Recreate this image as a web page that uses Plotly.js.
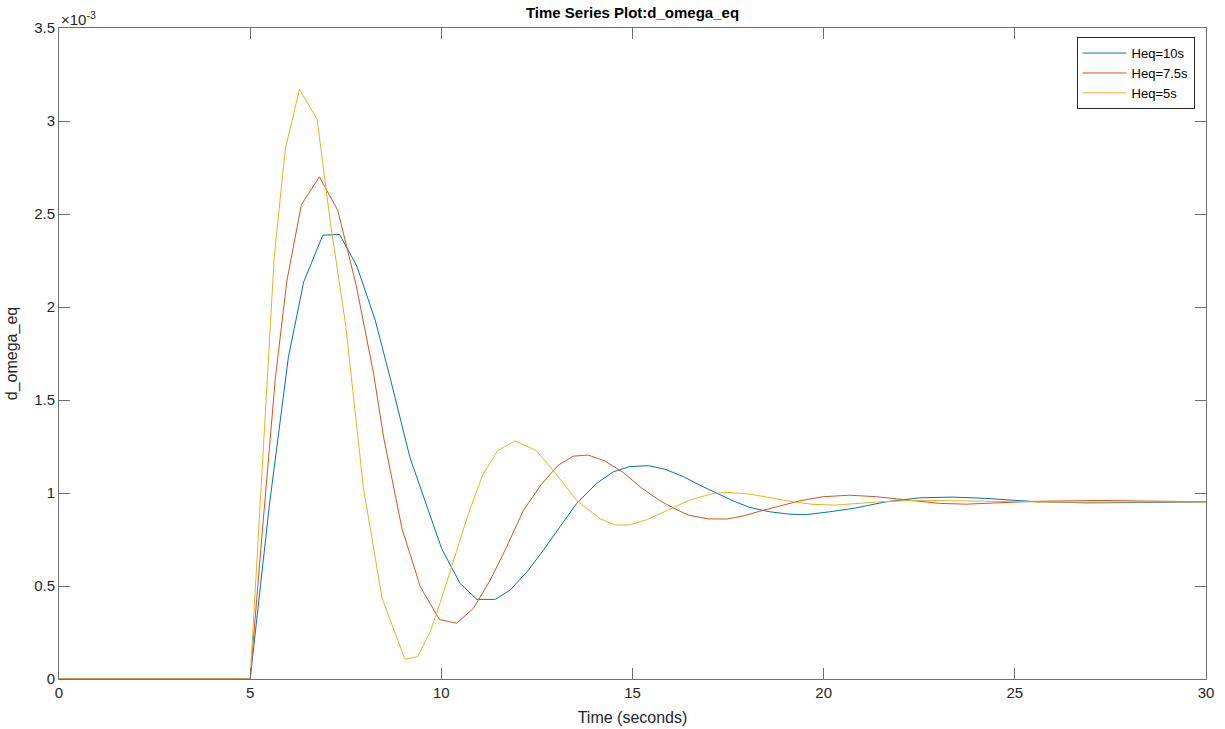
<!DOCTYPE html>
<html>
<head>
<meta charset="utf-8">
<script src="https://cdn.plot.ly/plotly-3.0.1.min.js"></script>
<style>html,body{margin:0;padding:0;background:#fff;}#chart{width:1225px;height:729px;}</style>
</head>
<body>
<div id="chart"></div>
<script>
// values in units of 1e-3
const t10 = [0, 5.0, 5.5, 6.0, 6.40, 6.90, 7.34, 7.79, 8.27, 8.66, 9.18, 9.62, 10.01, 10.49, 10.93, 11.41, 11.80, 12.28, 12.67, 13.10, 13.54, 14.06, 14.50, 14.93, 15.41, 15.85, 16.33, 16.76, 17.20, 17.63, 18.07, 18.59, 19.11, 19.55, 20.16, 20.77, 21.64, 22.51, 23.38, 24.25, 25.56, 26.87, 28.60, 30];
const y10 = [0, 0, 0.93, 1.73, 2.135, 2.386, 2.39, 2.22, 1.93, 1.62, 1.19, 0.926, 0.70, 0.514, 0.428, 0.428, 0.478, 0.586, 0.693, 0.818, 0.944, 1.052, 1.114, 1.142, 1.147, 1.128, 1.088, 1.042, 0.998, 0.958, 0.922, 0.899, 0.886, 0.884, 0.899, 0.917, 0.953, 0.974, 0.978, 0.971, 0.953, 0.947, 0.949, 0.952];

const t75 = [0, 5.0, 5.3, 5.66, 5.96, 6.34, 6.81, 7.29, 7.77, 8.23, 8.49, 8.97, 9.45, 9.95, 10.40, 10.84, 11.28, 11.71, 12.15, 12.63, 13.06, 13.45, 13.84, 14.28, 14.76, 15.22, 15.67, 16.06, 16.46, 16.98, 17.46, 17.89, 18.33, 18.85, 19.38, 19.98, 20.68, 21.38, 22.16, 23.03, 23.73, 24.6, 25.46, 27.2, 28.5, 30];
const y75 = [0, 0, 0.75, 1.62, 2.14, 2.55, 2.70, 2.52, 2.12, 1.64, 1.30, 0.81, 0.496, 0.32, 0.30, 0.38, 0.532, 0.711, 0.908, 1.05, 1.15, 1.198, 1.204, 1.172, 1.11, 1.03, 0.965, 0.92, 0.881, 0.861, 0.86, 0.876, 0.902, 0.931, 0.958, 0.98, 0.988, 0.98, 0.962, 0.944, 0.94, 0.946, 0.955, 0.96, 0.957, 0.953];

const t5 = [0, 5.0, 5.63, 5.92, 6.29, 6.75, 7.1, 7.5, 7.96, 8.45, 9.05, 9.38, 9.71, 9.97, 10.71, 11.08, 11.47, 11.93, 12.47, 12.93, 13.54, 14.15, 14.54, 14.93, 15.39, 15.95, 16.5, 17.11, 17.5, 18.07, 18.59, 19.2, 19.72, 20.3, 21.5, 22.45, 23.4, 24.5, 26, 28, 30];
const y5 = [0, 0, 2.27, 2.85, 3.17, 3.01, 2.45, 1.90, 1.03, 0.434, 0.106, 0.12, 0.254, 0.41, 0.89, 1.096, 1.227, 1.28, 1.23, 1.12, 0.96, 0.862, 0.828, 0.828, 0.858, 0.911, 0.962, 0.998, 1.003, 0.994, 0.974, 0.953, 0.939, 0.935, 0.953, 0.961, 0.958, 0.955, 0.951, 0.952, 0.952];

const seriesNames = ["Heq=10s", "Heq=7.5s", "Heq=5s"];
const xTicks = [0, 5, 10, 15, 20, 25, 30];
const yTicks = [0, 0.5, 1, 1.5, 2, 2.5, 3, 3.5];
const yTickText = ["0", "0.5", "1", "1.5", "2", "2.5", "3", "3.5"];

const colors = ["#0072BD", "#D95319", "#EDB120"];
const font = "Liberation Sans, Arial, Helvetica, sans-serif";

const traces = [[t10, y10], [t75, y75], [t5, y5]].map((d, i) => ({
  x: d[0], y: d[1], type: "scatter", mode: "lines", name: seriesNames[i],
  line: {color: colors[i], width: 1}
}));

const axisCommon = {
  showline: true, linecolor: "#707070", linewidth: 1, mirror: "ticks",
  ticks: "inside", ticklen: 11, tickcolor: "#707070", tickwidth: 1,
  showgrid: false, zeroline: false,
  tickfont: {family: font, size: 15, color: "#262626"}
};

const layout = {
  width: 1225, height: 729,
  margin: {l: 58.5, r: 18.5, t: 27.5, b: 50},
  paper_bgcolor: "#fff", plot_bgcolor: "#fff",
  title: {text: "<b>Time Series Plot:d_omega_eq</b>", font: {family: font, size: 15, color: "#000"}, x: 0.5, xref: "paper", y: 0.983, yanchor: "middle"},
  xaxis: Object.assign({}, axisCommon, {
    range: [0, 30], tickvals: xTicks, ticktext: xTicks.map(String),
    title: {text: "Time (seconds)", font: {family: font, size: 16, color: "#262626"}, standoff: 11}
  }),
  yaxis: Object.assign({}, axisCommon, {
    range: [0, 3.5], tickvals: yTicks, ticktext: yTickText,
    title: {text: "d_omega_eq", font: {family: font, size: 16, color: "#262626"}, standoff: 12}
  }),
  showlegend: true,
  legend: {
    x: 0.99, xanchor: "right", y: 0.986, yanchor: "top",
    bgcolor: "#fff", bordercolor: "#262626", borderwidth: 1,
    font: {family: font, size: 13, color: "#000"},
    tracegroupgap: 0, itemwidth: 44
  },
  annotations: [{
    text: "×10<sup>-3</sup>", xref: "paper", yref: "paper", x: 0, y: 1,
    xanchor: "left", yanchor: "bottom", showarrow: false,
    font: {family: font, size: 15, color: "#262626"}, yshift: -2
  }]
};

Plotly.newPlot("chart", traces, layout, {displayModeBar: false, staticPlot: true});
</script>
</body>
</html>
